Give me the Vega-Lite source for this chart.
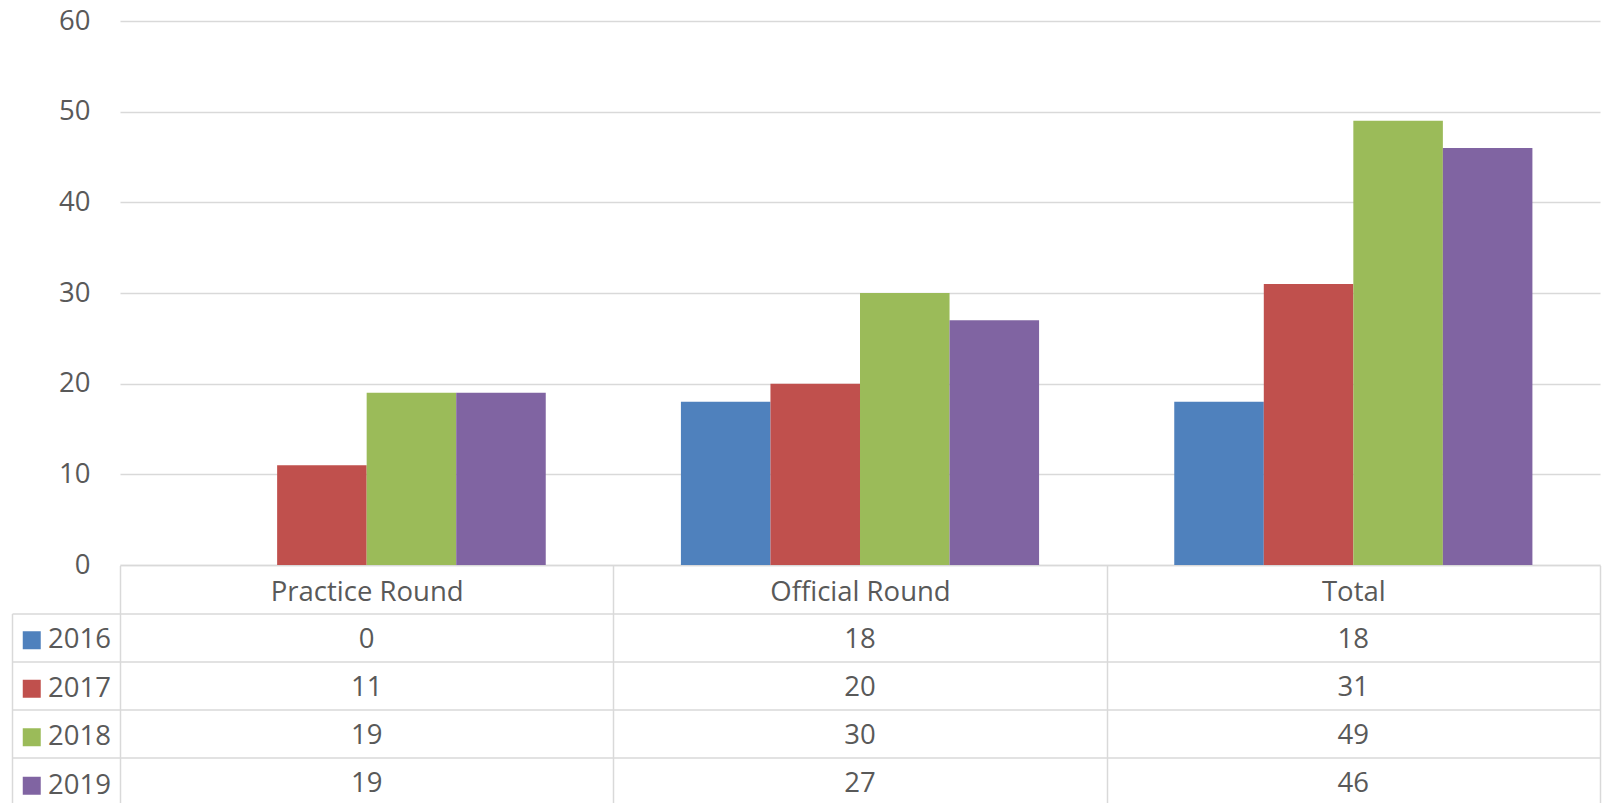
{
  "$schema": "https://vega.github.io/schema/vega-lite/v6.json",
  "padding": {"left": 11, "top": 7, "right": 2, "bottom": 0},
  "background": "white",
  "config": {
    "view": {"stroke": null},
    "font": "Open Sans",
    "axis": {
      "labelFont": "Open Sans", "labelFontSize": 27.5, "labelColor": "#595959",
      "gridColor": "#d9d9d9", "gridWidth": 1.5,
      "domainColor": "#d9d9d9", "domainWidth": 1.5,
      "tickColor": "#d9d9d9", "tickWidth": 1.5,
      "title": null
    }
  },
  "datasets": {
    "rows": [
      {"category": "Practice Round", "year": "2016", "value": 0},
      {"category": "Practice Round", "year": "2017", "value": 11},
      {"category": "Practice Round", "year": "2018", "value": 19},
      {"category": "Practice Round", "year": "2019", "value": 19},
      {"category": "Official Round", "year": "2016", "value": 18},
      {"category": "Official Round", "year": "2017", "value": 20},
      {"category": "Official Round", "year": "2018", "value": 30},
      {"category": "Official Round", "year": "2019", "value": 27},
      {"category": "Total", "year": "2016", "value": 18},
      {"category": "Total", "year": "2017", "value": 31},
      {"category": "Total", "year": "2018", "value": 49},
      {"category": "Total", "year": "2019", "value": 46}
    ]
  },
  "bounds": "flush",
  "spacing": 48.5,
  "resolve": {"scale": {"x": "independent", "y": "independent", "color": "shared"}},
  "vconcat": [
    {
      "width": 1480,
      "height": 544,
      "data": {"name": "rows"},
      "mark": {"type": "bar"},
      "encoding": {
        "x": {
          "field": "category", "type": "nominal",
          "sort": ["Practice Round", "Official Round", "Total"],
          "scale": {"paddingInner": 0.274, "paddingOuter": 0.137},
          "axis": {"labels": false, "ticks": false, "domain": true, "grid": false}
        },
        "xOffset": {"field": "year", "type": "nominal", "sort": ["2016", "2017", "2018", "2019"], "scale": {"paddingInner": 0, "paddingOuter": 0}},
        "y": {
          "field": "value", "type": "quantitative",
          "scale": {"domain": [0, 60], "nice": false},
          "axis": {"values": [0, 10, 20, 30, 40, 50, 60], "grid": true, "domain": false, "ticks": false, "labelPadding": 30}
        },
        "color": {
          "field": "year", "type": "nominal",
          "scale": {"domain": ["2016", "2017", "2018", "2019"], "range": ["#4F81BD", "#C0504D", "#9BBB59", "#8064A2"]},
          "legend": {
            "orient": "none", "legendX": -102, "legendY": 605.5, "title": null,
            "direction": "vertical",
            "symbolType": "square", "symbolSize": 324, "symbolStrokeWidth": 0, "symbolOpacity": 1,
            "labelFont": "Open Sans", "labelFontSize": 27.5, "labelColor": "#595959",
            "labelOffset": 2.5, "rowPadding": 19.5, "padding": 0
          }
        }
      }
    },
    {
      "width": 1480,
      "height": 189.5,
      "data": {"name": "rows"},
      "encoding": {
        "x": {
          "field": "category", "type": "nominal",
          "sort": ["Practice Round", "Official Round", "Total"],
          "scale": {"type": "band", "paddingInner": 0, "paddingOuter": 0},
          "axis": {"orient": "top", "labels": true, "labelAngle": 0, "labelLimit": 0, "labelPadding": -26.5, "labelBaseline": "middle", "ticks": true, "tickSize": 48, "domain": false, "grid": true, "tickBand": "extent"}
        }
      },
      "layer": [
        {
          "mark": {"type": "text", "font": "Open Sans", "fontSize": 27.5, "color": "#595959", "dy": 2.5},
          "encoding": {
            "y": {
              "field": "year", "type": "nominal",
              "sort": ["2016", "2017", "2018", "2019"],
              "scale": {"type": "band", "paddingInner": 0, "paddingOuter": 0, "range": [0, 192.5]},
              "axis": {"orient": "left", "labels": false, "domain": false, "ticks": true, "tickSize": 108, "bandPosition": 0, "grid": true}
            },
            "text": {"field": "value", "type": "quantitative"}
          }
        },
        {
          "mark": {"type": "rule", "opacity": 0},
          "encoding": {
            "y": {
              "field": "year", "type": "nominal",
              "sort": ["2016", "2017", "2018", "2019"],
              "scale": {"type": "band", "paddingInner": 0, "paddingOuter": 0},
              "axis": {"orient": "left", "offset": 108, "labels": false, "domain": true, "ticks": false, "grid": false}
            }
          }
        }
      ],
      "resolve": {"scale": {"y": "independent"}, "axis": {"y": "independent"}}
    }
  ]
}
